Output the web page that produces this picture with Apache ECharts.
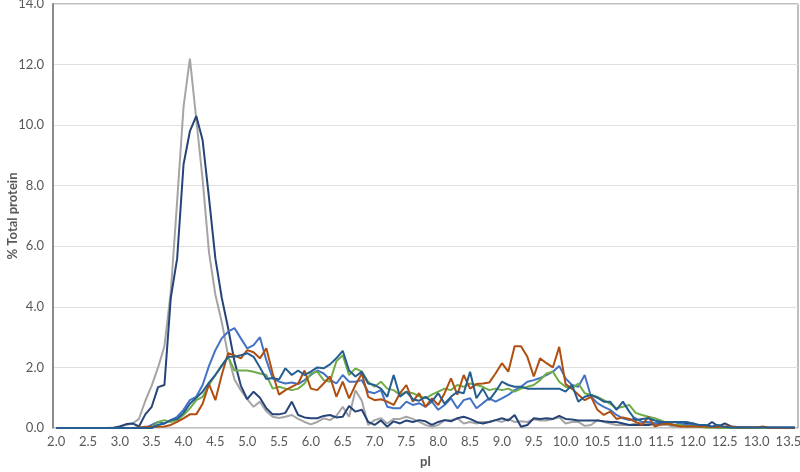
<!DOCTYPE html>
<html>
<head>
<meta charset="utf-8">
<script src="https://cdn.jsdelivr.net/npm/echarts@6/dist/echarts.min.js"></script>
<style>
  html, body { margin: 0; padding: 0; background: #fff; }
  #chart { width: 800px; height: 472px; }
</style>
</head>
<body>
<div id="chart"></div>
<script>
// pI categories, 0.1 step
const pI = [
  '2.0','2.1','2.2','2.3','2.4','2.5','2.6','2.7','2.8','2.9',
  '3.0','3.1','3.2','3.3','3.4','3.5','3.6','3.7','3.8','3.9',
  '4.0','4.1','4.2','4.3','4.4','4.5','4.6','4.7','4.8','4.9',
  '5.0','5.1','5.2','5.3','5.4','5.5','5.6','5.7','5.8','5.9',
  '6.0','6.1','6.2','6.3','6.4','6.5','6.6','6.7','6.8','6.9',
  '7.0','7.1','7.2','7.3','7.4','7.5','7.6','7.7','7.8','7.9',
  '8.0','8.1','8.2','8.3','8.4','8.5','8.6','8.7','8.8','8.9',
  '9.0','9.1','9.2','9.3','9.4','9.5','9.6','9.7','9.8','9.9',
  '10.0','10.1','10.2','10.3','10.4','10.5','10.6','10.7','10.8','10.9',
  '11.0','11.1','11.2','11.3','11.4','11.5','11.6','11.7','11.8','11.9',
  '12.0','12.1','12.2','12.3','12.4','12.5','12.6','12.7','12.8','12.9',
  '13.0','13.1','13.2','13.3','13.4','13.5','13.6'
];

const grayVals = [
  0,0,0,0,0,0,0,0,0,0.02,
  0.05,0.1,0.15,0.3,0.9,1.4,2.0,2.7,4.5,7.5,
  10.6,12.2,10.2,8.2,5.8,4.4,3.5,2.4,1.6,1.25,
  0.95,0.7,0.87,0.55,0.37,0.33,0.37,0.43,0.3,0.2,
  0.12,0.2,0.32,0.26,0.4,0.7,0.37,1.25,0.9,0.1,
  0.26,0.32,0.15,0.3,0.3,0.37,0.3,0.2,0.1,0.05,
  0.1,0.26,0.26,0.32,0.15,0.2,0.15,0.2,0.2,0.26,
  0.2,0.29,0.2,0.22,0.2,0.29,0.25,0.25,0.3,0.35,
  0.15,0.2,0.2,0.07,0.1,0.26,0.2,0.15,0.1,0.1,
  0.1,0.15,0.2,0.15,0.1,0.1,0.1,0.05,0.05,0.05,
  0.03,0.03,0.02,0.02,0.02,0.02,0.02,0.01,0.01,0,
  0,0,0,0,0,0,0
];

const navyVals = [
  0,0,0,0,0,0,0,0,0,0,
  0.05,0.13,0.15,0.05,0.45,0.7,1.35,1.42,4.3,5.6,
  8.7,9.8,10.3,9.5,7.6,5.6,4.3,3.3,2.2,1.4,
  0.95,1.2,1.0,0.65,0.45,0.45,0.5,0.87,0.43,0.35,
  0.32,0.32,0.4,0.43,0.35,0.37,0.73,0.54,0.6,0.2,
  0.1,0.25,0.04,0.22,0.15,0.25,0.2,0.26,0.22,0.1,
  0.2,0.26,0.22,0.32,0.37,0.3,0.2,0.15,0.2,0.26,
  0.32,0.25,0.43,0.04,0.1,0.32,0.3,0.32,0.3,0.4,
  0.3,0.28,0.25,0.25,0.25,0.25,0.22,0.2,0.2,0.15,
  0.1,0.1,0.1,0.1,0.15,0.15,0.15,0.1,0.1,0.15,
  0.15,0.05,0.05,0.2,0.05,0.15,0.05,0.03,0.02,0.02,
  0.02,0.02,0.02,0.02,0.02,0.02,0.02
];

const blueVals = [
  0,0,0,0,0,0,0,0,0,0,
  0,0,0,0,0,0.1,0.2,0.15,0.26,0.37,
  0.6,0.92,1.03,1.42,2.05,2.57,2.96,3.18,3.3,2.96,
  2.63,2.74,3.0,2.24,1.64,1.53,1.47,1.5,1.45,1.58,
  1.75,1.9,1.8,1.6,1.47,1.75,1.53,1.53,1.58,1.2,
  1.15,1.25,0.7,0.65,0.65,0.87,0.76,0.82,0.7,0.87,
  0.6,0.76,0.98,0.65,0.92,0.98,0.65,0.82,0.98,0.87,
  0.98,1.09,1.25,1.36,1.53,1.58,1.65,1.75,1.86,2.05,
  1.64,1.42,1.36,1.75,1.03,0.82,0.7,0.6,0.43,0.32,
  0.26,0.32,0.2,0.2,0.15,0.2,0.15,0.2,0.15,0.1,
  0.1,0.1,0.05,0.03,0.02,0.02,0.02,0.02,0.02,0.02,
  0.02,0.02,0,0,0,0,0
];

const greenVals = [
  0,0,0,0,0,0,0,0,0,0,
  0,0,0,0,0,0,0.2,0.26,0.2,0.26,
  0.43,0.65,0.92,1.03,1.42,1.75,2.08,2.35,1.9,1.9,
  1.9,1.86,1.8,1.75,1.3,1.36,1.3,1.25,1.3,1.47,
  1.8,1.86,1.58,1.53,2.2,2.4,1.75,1.97,1.86,1.53,
  1.36,1.53,1.3,1.25,1.09,1.2,1.15,1.05,0.98,1.1,
  1.2,1.3,1.25,1.42,1.36,1.47,1.42,1.36,1.25,1.3,
  1.25,1.3,1.2,1.3,1.36,1.42,1.58,1.8,1.86,1.53,
  1.36,1.3,1.47,1.15,1.09,1.03,0.92,0.8,0.65,0.7,
  0.76,0.5,0.43,0.37,0.32,0.25,0.15,0.1,0.1,0.05,
  0.05,0.05,0.02,0.02,0.02,0,0,0,0,0,
  0,0,0,0,0,0,0
];

const orangeVals = [
  0,0,0,0,0,0,0,0,0,0,
  0,0,0,0.02,0.04,0.04,0.04,0.05,0.1,0.2,
  0.32,0.45,0.45,0.8,1.45,0.92,1.75,2.47,2.4,2.3,
  2.57,2.5,2.3,2.63,1.8,1.1,1.25,1.36,1.47,1.9,
  1.3,1.25,1.47,1.7,1.03,1.53,0.98,1.42,1.8,1.03,
  0.92,0.95,0.87,0.76,1.15,1.42,0.87,1.15,0.7,0.98,
  0.76,1.15,1.64,1.1,1.75,1.3,1.45,1.47,1.5,1.8,
  2.14,1.86,2.7,2.7,2.35,1.7,2.3,2.14,2.0,2.68,
  1.45,1.3,1.1,0.92,1.03,0.6,0.43,0.54,0.3,0.35,
  0.3,0.2,0.1,0.37,0.05,0.12,0.15,0.1,0.05,0.05,
  0.05,0.05,0.05,0.03,0.03,0.05,0.05,0.02,0.02,0.02,
  0.02,0.05,0,0,0,0,0
];

const tealVals = [
  0,0,0,0,0,0,0,0,0,0,
  0,0,0,0,0,0,0.1,0.15,0.26,0.3,
  0.5,0.8,1.0,1.2,1.5,1.75,2.05,2.35,2.35,2.4,
  2.47,2.35,2.0,1.62,1.65,1.6,1.97,1.75,1.9,1.75,
  1.86,2.0,1.97,2.1,2.3,2.55,1.9,1.7,1.86,1.47,
  1.42,1.3,1.03,1.75,1.03,1.2,0.95,0.9,1.03,0.87,
  1.15,0.8,1.03,1.2,1.15,1.86,0.98,1.3,0.92,1.2,
  1.53,1.42,1.36,1.36,1.3,1.3,1.3,1.3,1.3,1.3,
  1.2,1.42,0.87,1.03,1.09,1.0,0.87,0.87,0.6,0.87,
  0.54,0.26,0.3,0.32,0.25,0.2,0.2,0.2,0.2,0.2,
  0.15,0.1,0.1,0.05,0.1,0.03,0.02,0.02,0.02,0.02,
  0.02,0.02,0.02,0.02,0.02,0.02,0.02
];

const SERIES = [
  { data: grayVals, color: '#a5a5a5' },
  { data: navyVals, color: '#264478' },
  { data: blueVals, color: '#4472c4' },
  { data: greenVals, color: '#70ad47' },
  { data: orangeVals, color: '#b04e10' },
  { data: tealVals, color: '#255e91' }
];

const FONT = 'Lato, "Open Sans", sans-serif';
const chart = echarts.init(document.getElementById('chart'), null, { renderer: 'canvas' });

chart.setOption({
  animation: false,
  backgroundColor: '#fff',
  grid: {
    left: 53, right: 2, top: 4, bottom: 44,
    outerBoundsMode: 'none', containLabel: false,
    show: true, borderColor: '#808080', borderWidth: 1
  },
  xAxis: {
    type: 'category', data: pI, boundaryGap: true,
    name: 'pI', nameLocation: 'middle', nameGap: 27, nameMoveOverlap: false,
    nameTextStyle: { color: '#595959', fontWeight: 'bold', fontSize: 13, fontFamily: FONT },
    axisLine: { show: true, lineStyle: { color: '#d9d9d9' } },
    axisTick: { show: false },
    axisLabel: { interval: 4, color: '#595959', fontSize: 13, fontFamily: FONT, margin: 7 },
    splitLine: { show: false }
  },
  yAxis: {
    type: 'value', min: 0, max: 14, interval: 2,
    name: '% Total protein', nameLocation: 'middle', nameGap: 34, nameMoveOverlap: false,
    nameTextStyle: { color: '#595959', fontWeight: 'bold', fontSize: 13, fontFamily: FONT },
    axisLine: { show: true, lineStyle: { color: '#8a8a8a', width: 2 } },
    axisTick: { show: false },
    axisLabel: { color: '#595959', fontSize: 13, fontFamily: FONT, margin: 9, formatter: v => v.toFixed(1) },
    splitLine: { lineStyle: { color: '#e0e0e0' } }
  },
  series: SERIES.map(s => ({
    type: 'line', data: s.data, symbol: 'none', smooth: false,
    lineStyle: { color: s.color, width: 2 },
    itemStyle: { color: s.color }
  }))
});
</script>
</body>
</html>
